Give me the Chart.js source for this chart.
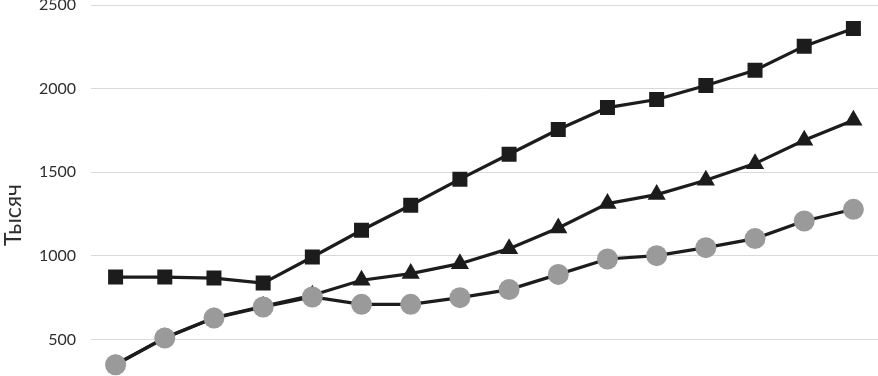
<!DOCTYPE html>
<html>
<head>
<meta charset="utf-8">
<script src="https://cdn.jsdelivr.net/npm/chart.js@4"></script>
<style>
  html, body { margin: 0; padding: 0; background: #fff; overflow: hidden; width: 878px; height: 376px; }
  #wrap { position: absolute; left: 0; top: 0; width: 878px; height: 430px; }
</style>
</head>
<body>
<div id="wrap"><canvas id="c"></canvas></div>
<script>
const categories = ['1','2','3','4','5','6','7','8','9','10','11','12','13','14','15','16'];
const seriesSquares   = [874, 874, 868, 838, 994, 1154, 1303, 1459, 1608, 1756, 1887, 1935, 2019, 2110, 2254, 2360];
const seriesTriangles = [352, 512, 631, 700, 765, 855, 895, 954, 1044, 1167, 1313, 1367, 1453, 1552, 1692, 1811];
const seriesCircles   = [350, 510, 629, 695, 755, 711, 711, 751, 799, 890, 982, 1002, 1050, 1104, 1209, 1279];
const yTicks = [500, 1000, 1500, 2000, 2500];
const yTitle = 'Тысяч';

const lineColor = '#1c1c1c';

new Chart(document.getElementById('c'), {
  type: 'line',
  data: {
    labels: categories,
    datasets: [
      {
        label: 'circles', data: seriesCircles, borderColor: lineColor, borderWidth: 3.2,
        pointStyle: 'circle', pointRadius: 10.5, pointBackgroundColor: '#9a9a9a',
        pointBorderColor: '#9a9a9a', pointBorderWidth: 0, tension: 0
      },
      {
        label: 'triangles', data: seriesTriangles, borderColor: lineColor, borderWidth: 3.2,
        pointStyle: 'triangle', pointRadius: 10.5, pointBackgroundColor: '#1c1c1c',
        pointBorderColor: '#1c1c1c', pointBorderWidth: 0, tension: 0
      },
      {
        label: 'squares', data: seriesSquares, borderColor: lineColor, borderWidth: 3.2,
        pointStyle: 'rect', pointRadius: 10.6, pointBackgroundColor: '#1c1c1c',
        pointBorderColor: '#1c1c1c', pointBorderWidth: 0, tension: 0
      }
    ]
  },
  options: {
    responsive: true,
    maintainAspectRatio: false,
    animation: false,
    events: [],
    layout: { padding: 0, autoPadding: false },
    plugins: { legend: { display: false }, tooltip: { enabled: false } },
    scales: {
      x: {
        type: 'category',
        display: false,
        offset: true
      },
      y: {
        min: -40,
        max: 2530,
        border: { display: false },
        grid: { color: '#d9d9d9', lineWidth: 1, drawTicks: false },
        ticks: {
          stepSize: 500,
          padding: 15,
          color: '#2e2e2e',
          font: { family: 'Lato', size: 16 },
          callback: (v) => String(v)
        },
        title: {
          display: true,
          text: yTitle,
          color: '#2e2e2e',
          font: { family: 'Lato', size: 23 },
          padding: { top: 0, bottom: 0 }
        },
        afterBuildTicks: (scale) => {
          scale.ticks = yTicks.map(v => ({ value: v }));
        },
        afterFit: (scale) => {
          scale.width = 91;
          scale.paddingTop = 0;
          scale.paddingBottom = 0;
        }
      }
    }
  }
});
</script>
</body>
</html>
